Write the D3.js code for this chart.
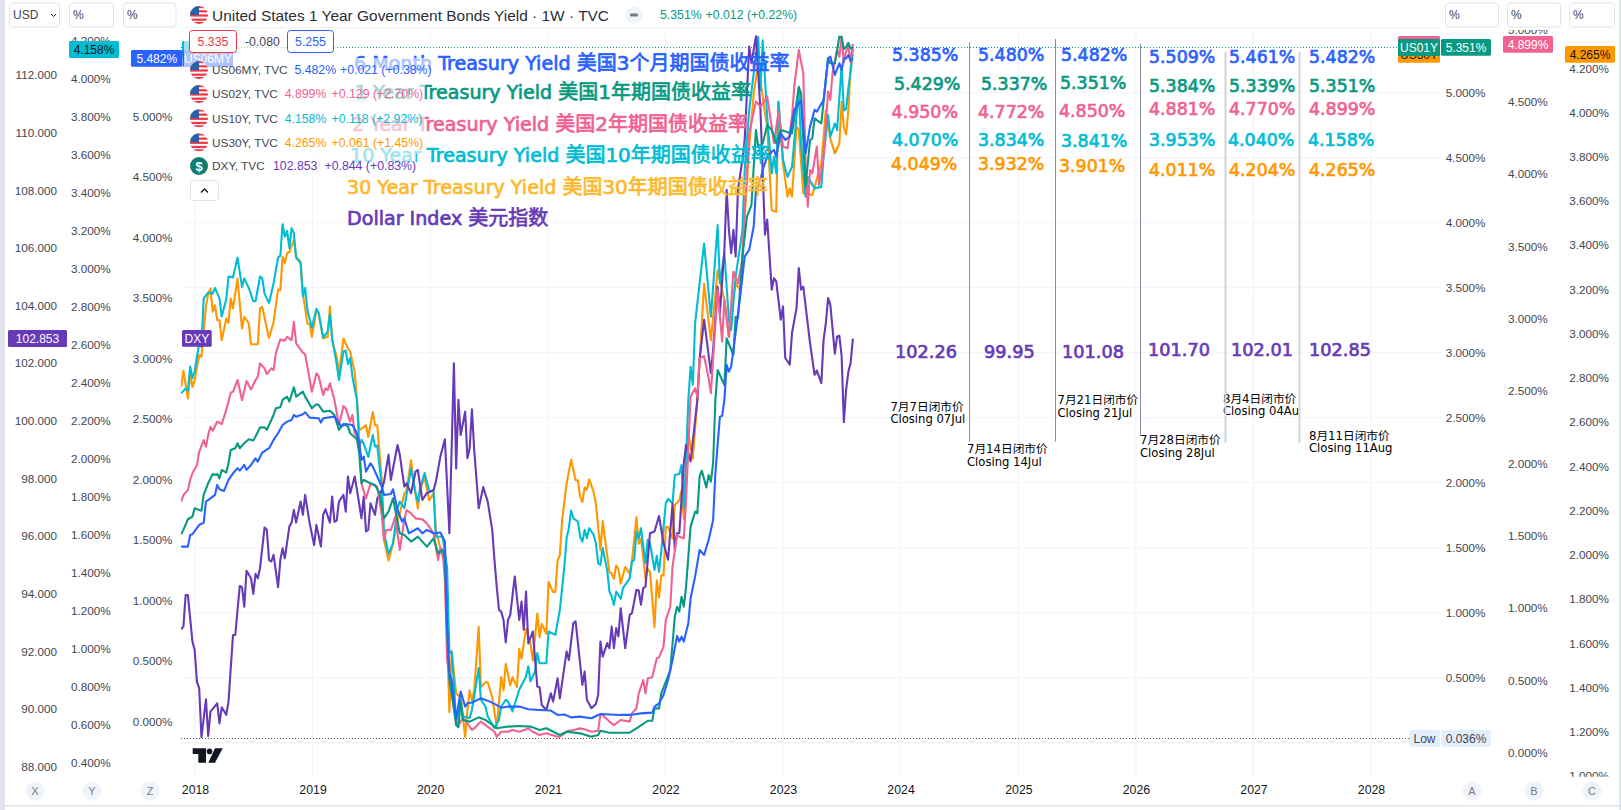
<!DOCTYPE html>
<html><head><meta charset="utf-8">
<script src="https://cdn.jsdelivr.net/npm/d3@7/dist/d3.min.js"></script>
<style>
html,body{margin:0;padding:0;background:#fff;overflow:hidden}
svg{display:block}
text{font-family:"Liberation Sans",Arial,sans-serif}
</style></head><body><svg id="c" width="1621" height="810"></svg>
<script>
// ---- readings: [week number since the first bar, value] ----
const us06my=[[0,1.447],[3,1.447],[4,1.543],[5,1.549],[8,1.626],[10,1.645],[11,1.819],[13,1.846],[15,1.874],[16,1.957],[17,1.921],[19,1.907],[21,1.998],[23,2.053],[25,2.094],[26,2.075],[28,2.122],[29,2.081],[31,2.122],[33,2.177],[34,2.15],[36,2.224],[39,2.26],[41,2.329],[43,2.384],[45,2.452],[47,2.48],[49,2.494],[50,2.535],[51,2.521],[54,2.541],[55,2.557],[57,2.513],[61,2.508],[62,2.472],[63,2.508],[68,2.521],[69,2.494],[71,2.439],[73,2.461],[76,2.452],[78,2.384],[79,2.301],[80,2.163],[81,2.191],[82,2.067],[84,2.136],[85,2.108],[87,2.026],[89,1.943],[90,1.874],[93,1.882],[94,1.921],[96,1.75],[98,1.654],[99,1.681],[101,1.557],[105,1.599],[107,1.557],[109,1.585],[112,1.557],[115,1.563],[117,1.49],[118,.786],[119,.4],[120,.345],[122,.028],[124,.249],[126,.125],[127,.152],[129,.158],[133,.194],[137,.166],[139,.147],[142,.116],[145,.125],[150,.125],[154,.103],[159,.097],[164,.092],[167,.056],[170,.06],[173,.036],[177,.042],[182,.028],[186,.064],[195,.056],[199,.056],[204,.069],[209,.075],[210,.125],[212,.152],[214,.221],[216,.345],[218,.51],[220,.709],[221,.662],[222,.703],[223,.662],[225,.813],[226,1.02],[228,1.199],[230,1.419],[232,1.378],[234,1.502],[236,1.667],[237,2.053],[239,2.521],[240,2.527],[241,2.659],[242,2.949],[243,2.893],[244,2.935],[245,3.072],[248,3.513],[250,3.844],[252,3.899],[254,4.092],[255,4.395],[257,4.477],[258,4.56],[260,4.67],[262,4.711],[263,4.725],[264,4.67],[266,4.863],[268,4.808],[270,4.835],[272,5.056],[275,5.138],[277,4.698],[279,4.918],[281,5.056],[282,5.042],[285,5.138],[287,5.483],[288,5.497],[290,5.345],[292,5.441],[293,5.385],[294,5.48],[295,5.482],[296,5.509],[297,5.461],[298,5.482]];
const us01y=[[0,1.603],[1,1.637],[3,1.719],[5,1.739],[6,1.803],[8,1.79],[9,1.785],[10,1.906],[12,1.996],[14,2.067],[15,2.06],[16,2.067],[17,2.034],[18,2.098],[20,2.078],[21,2.149],[22,2.252],[24,2.265],[25,2.303],[26,2.265],[28,2.303],[30,2.334],[32,2.324],[33,2.355],[35,2.424],[37,2.426],[38,2.406],[39,2.444],[41,2.521],[42,2.572],[44,2.58],[45,2.637],[47,2.662],[48,2.624],[50,2.734],[51,2.662],[54,2.701],[55,2.662],[58,2.572],[60,2.603],[61,2.598],[63,2.547],[66,2.554],[68,2.521],[70,2.406],[72,2.452],[74,2.431],[75,2.38],[78,2.334],[79,2.226],[80,1.996],[81,2.021],[84,1.996],[86,1.983],[88,1.919],[90,1.726],[92,1.778],[94,1.88],[97,1.611],[99,1.598],[102,1.547],[105,1.585],[109,1.508],[112,1.572],[114,1.457],[116,1.483],[117,1.418],[118,.867],[119,.483],[120,.38],[122,.136],[123,.118],[124,.316],[125,.175],[128,.162],[132,.195],[135,.175],[140,.111],[145,.124],[150,.129],[155,.124],[159,.098],[162,.111],[168,.059],[171,.085],[177,.072],[182,.046],[185,.059],[186,.092],[190,.077],[195,.077],[199,.077],[202,.11],[205,.144],[207,.169],[209,.169],[210,.264],[212,.264],[213,.38],[217,.559],[219,.969],[220,1.046],[221,1.008],[222,1.123],[223,1.046],[224,1.2],[226,1.662],[228,1.777],[229,1.764],[230,2.046],[231,2.092],[233,1.964],[234,2.059],[235,2.008],[236,2.149],[237,2.636],[238,2.867],[241,2.751],[242,3.11],[245,2.982],[246,3.277],[247,3.264],[249,3.738],[251,4.046],[253,4.136],[255,4.713],[256,4.585],[258,4.61],[260,4.751],[262,4.713],[264,4.61],[266,4.713],[271,4.687],[274,5.046],[275,4.995],[277,4.277],[279,4.636],[280,4.649],[281,4.803],[284,4.764],[287,5.264],[288,5.226],[290,5.226],[292,5.431],[293,5.429],[294,5.337],[295,5.351],[296,5.384],[297,5.339],[298,5.351]];
const us02y=[[0,1.735],[1,1.781],[3,1.815],[4,1.885],[5,1.931],[7,1.988],[8,2.08],[10,2.161],[11,2.115],[12,2.196],[13,2.253],[14,2.226],[16,2.288],[18,2.272],[20,2.368],[22,2.488],[23,2.495],[25,2.576],[27,2.437],[29,2.569],[31,2.511],[33,2.576],[34,2.599],[35,2.691],[37,2.656],[38,2.617],[40,2.656],[41,2.645],[42,2.76],[44,2.857],[46,2.848],[47,2.875],[49,2.852],[50,2.979],[51,2.829],[54,2.765],[55,2.755],[58,2.495],[60,2.622],[61,2.603],[63,2.472],[64,2.518],[65,2.507],[66,2.553],[68,2.438],[70,2.265],[72,2.396],[73,2.38],[75,2.288],[76,2.334],[77,2.207],[79,2.161],[80,1.861],[82,1.758],[84,1.861],[87,1.838],[89,1.643],[90,1.47],[91,1.539],[93,1.539],[95,1.631],[97,1.401],[99,1.608],[100,1.677],[102,1.654],[104,1.62],[107,1.613],[109,1.585],[112,1.516],[114,1.332],[115,1.413],[116,1.401],[117,1.194],[118,.641],[120,.41],[122,.215],[123,.191],[125,.238],[127,.203],[129,.157],[130,.168],[133,.215],[135,.191],[137,.168],[139,.145],[140,.11],[142,.145],[145,.145],[147,.157],[150,.145],[154,.168],[156,.145],[159,.122],[162,.134],[167,.11],[168,.111],[172,.152],[174,.157],[177,.168],[179,.162],[182,.145],[185,.152],[186,.261],[187,.261],[190,.215],[192,.191],[195,.226],[199,.215],[200,.272],[202,.307],[203,.41],[205,.502],[206,.41],[207,.514],[209,.521],[211,.652],[212,.659],[214,.733],[215,.917],[217,1.009],[218,1.286],[220,1.505],[221,1.493],[223,1.482],[224,1.747],[226,2.461],[228,2.519],[229,2.461],[230,2.726],[232,2.742],[234,2.588],[235,2.485],[238,3.199],[240,2.842],[241,3.13],[243,2.876],[245,3.325],[247,3.245],[249,3.406],[250,3.752],[252,4.282],[255,4.501],[257,4.466],[260,4.535],[262,4.328],[263,4.213],[265,4.431],[267,4.19],[269,4.178],[271,4.397],[272,4.604],[274,4.858],[276,4.696],[277,4.074],[278,3.775],[279,4.028],[280,4.005],[282,4.19],[283,3.925],[285,4.12],[287,4.57],[288,4.512],[289,4.7],[291,4.858],[292,4.81],[293,4.95],[294,4.772],[295,4.85],[296,4.881],[297,4.77],[298,4.899]];
const us10y=[[0,2.345],[2,2.37],[3,2.36],[4,2.486],[5,2.425],[6,2.46],[8,2.61],[9,2.59],[10,2.845],[12,2.875],[14,2.87],[15,2.9],[17,2.845],[18,2.75],[20,2.84],[21,2.96],[23,2.955],[25,3.06],[27,2.905],[28,2.95],[30,2.9],[32,2.83],[33,2.83],[35,2.96],[36,2.95],[37,2.87],[39,2.82],[41,2.925],[43,3.06],[44,3.07],[45,3.235],[46,3.17],[47,3.2],[48,3.11],[49,3.215],[50,3.19],[51,3.06],[53,3.03],[54,2.855],[55,2.9],[56,2.785],[58,2.69],[60,2.79],[61,2.77],[63,2.64],[65,2.67],[66,2.76],[67,2.63],[69,2.5],[70,2.415],[72,2.565],[73,2.57],[74,2.5],[75,2.53],[76,2.43],[78,2.31],[79,2.065],[80,2.1],[81,2.08],[83,2.01],[85,2.125],[86,2.065],[87,2.07],[89,1.855],[90,1.61],[92,1.5],[94,1.556],[96,1.74],[97,1.775],[99,1.74],[100,1.81],[102,1.95],[104,1.82],[105,1.775],[106,1.845],[108,1.925],[110,1.83],[112,1.83],[113,1.59],[116,1.59],[118,1.424],[119,.977],[120,.985],[121,.819],[122,.608],[124,.731],[125,.643],[128,.635],[129,.68],[130,.749],[132,.898],[133,.731],[135,.696],[136,.643],[139,.582],[141,.626],[142,.696],[144,.731],[145,.722],[147,.67],[150,.784],[153,.854],[154,.907],[155,.828],[157,.88],[158,.977],[159,.924],[162,.924],[163,1.091],[166,1.073],[168,1.205],[170,1.433],[171,1.582],[172,1.635],[173,1.728],[174,1.687],[176,1.67],[177,1.59],[178,1.564],[179,1.626],[180,1.582],[181,1.635],[183,1.6],[184,1.556],[185,1.45],[186,1.442],[187,1.53],[189,1.415],[190,1.301],[191,1.275],[192,1.231],[193,1.301],[195,1.263],[196,1.319],[199,1.371],[200,1.459],[201,1.468],[202,1.617],[203,1.582],[204,1.635],[206,1.45],[207,1.573],[208,1.556],[210,1.415],[211,1.489],[212,1.406],[213,1.512],[215,1.766],[216,1.789],[218,1.766],[219,1.915],[221,1.92],[222,1.968],[223,1.74],[224,1.994],[225,2.31],[226,2.485],[227,2.39],[228,2.713],[230,2.924],[232,3.134],[235,2.748],[238,3.231],[239,2.924],[241,3.082],[243,2.731],[244,2.678],[246,2.959],[249,3.204],[250,3.52],[252,3.836],[254,4.029],[256,4.222],[257,3.941],[258,4.204],[260,3.801],[262,3.503],[263,3.59],[264,3.503],[265,3.88],[267,3.573],[269,3.485],[271,3.538],[274,3.941],[275,3.66],[277,3.38],[278,3.485],[281,3.424],[284,3.432],[285,3.59],[287,3.81],[288,3.696],[290,3.766],[291,3.73],[293,4.07],[294,3.834],[295,3.841],[296,3.953],[297,4.04],[298,4.158]];
const us30y=[[0,2.759],[1,2.832],[3,2.707],[4,2.82],[5,2.759],[6,2.79],[8,2.903],[9,2.895],[11,3.121],[12,3.182],[13,3.204],[14,3.099],[15,3.129],[16,3.061],[17,3.061],[18,2.971],[20,3.069],[21,3.049],[22,3.159],[23,3.114],[25,3.249],[27,3.023],[28,3.076],[30,3.046],[31,2.952],[34,2.952],[35,3.114],[36,3.121],[38,3.023],[39,2.981],[41,3.053],[43,3.2],[44,3.197],[45,3.348],[46,3.32],[47,3.363],[48,3.37],[50,3.423],[51,3.348],[53,3.325],[54,3.182],[56,3.046],[57,3.043],[58,2.986],[60,3.106],[61,3.091],[63,2.978],[65,2.986],[66,3.124],[67,2.971],[69,2.895],[70,2.82],[72,2.978],[74,2.933],[75,2.918],[77,2.827],[78,2.699],[79,2.563],[82,2.586],[83,2.533],[85,2.646],[86,2.586],[87,2.586],[89,2.337],[90,2.066],[92,1.975],[94,2.05],[96,2.156],[97,2.186],[99,2.277],[100,2.292],[102,2.428],[103,2.337],[105,2.209],[106,2.292],[108,2.352],[110,2.247],[112,2.277],[113,2.111],[116,1.99],[117,1.96],[119,1.289],[120,1.565],[122,1.372],[124,1.357],[126,1.176],[127,1.296],[128,1.387],[129,1.342],[130,1.387],[132,1.673],[133,1.402],[135,1.424],[136,1.424],[138,1.357],[140,1.221],[142,1.447],[143,1.387],[144,1.507],[146,1.409],[147,1.447],[149,1.402],[150,1.575],[151,1.53],[153,1.666],[155,1.598],[156,1.522],[158,1.734],[159,1.628],[160,1.688],[162,1.643],[163,1.877],[165,1.832],[166,1.832],[167,1.975],[168,1.998],[169,2.156],[171,2.322],[173,2.43],[175,2.337],[176,2.337],[177,2.262],[178,2.239],[179,2.304],[180,2.295],[181,2.342],[183,2.284],[184,2.231],[186,2.02],[187,2.153],[190,1.922],[191,1.915],[192,1.892],[193,1.952],[194,1.937],[195,1.869],[197,1.945],[199,1.915],[200,1.975],[202,2.171],[203,2.05],[204,2.073],[206,1.892],[207,1.937],[208,1.922],[210,1.673],[211,1.885],[212,1.809],[213,1.907],[214,1.907],[215,2.126],[216,2.126],[218,2.073],[219,2.224],[221,2.247],[222,2.292],[223,2.163],[225,2.548],[227,2.435],[229,2.699],[232,3.227],[235,2.97],[238,3.287],[241,3.151],[243,2.985],[244,3.106],[246,3.227],[248,3.197],[250,3.528],[252,3.845],[254,4.086],[256,4.222],[257,4.147],[259,3.996],[260,3.936],[262,3.558],[264,3.551],[265,4.049],[267,3.77],[269,3.619],[270,3.657],[271,3.619],[273,3.936],[274,3.92],[276,3.634],[278,3.634],[280,3.626],[282,3.7],[284,3.77],[286,4.011],[288,3.883],[290,3.815],[292,3.86],[293,4.049],[294,3.932],[295,3.901],[296,4.011],[297,4.204],[298,4.265]];
const dxy=[[0,92.77],[1,92.86],[2,93.96],[3,93.96],[5,92.34],[6,92.05],[7,90.95],[8,90.72],[9,89.02],[11,90.34],[12,89.07],[13,89.91],[16,90.2],[17,89.5],[18,90.06],[20,89.8],[21,90.26],[23,92.57],[24,92.57],[26,94.27],[27,94.23],[28,93.55],[29,94.8],[31,94.54],[32,94.0],[33,94.69],[34,94.54],[35,94.89],[37,96.3],[38,96.22],[39,95.17],[40,95.12],[41,95.35],[43,94.23],[44,95.17],[45,95.58],[46,95.23],[48,96.33],[49,96.47],[50,96.91],[51,96.47],[53,97.2],[54,96.74],[55,97.43],[57,96.45],[59,95.69],[60,96.39],[62,95.64],[63,96.74],[64,96.93],[66,96.47],[67,97.37],[68,96.5],[69,96.54],[70,97.2],[72,97.43],[73,96.85],[74,98.07],[75,97.49],[77,98.07],[78,97.6],[80,96.62],[81,97.37],[82,96.16],[83,96.22],[84,97.14],[86,96.74],[87,97.31],[89,97.6],[90,97.89],[92,98.82],[93,97.95],[96,99.16],[97,98.82],[99,97.72],[100,97.83],[102,97.49],[104,98.24],[105,98.3],[107,97.26],[109,97.49],[112,97.6],[113,97.89],[115,98.76],[117,99.36],[119,96.1],[121,102.0],[122,98.35],[123,100.73],[124,99.51],[126,100.32],[127,98.7],[128,99.05],[129,100.4],[130,99.0],[132,96.97],[134,97.7],[136,97.2],[138,96.22],[139,95.17],[140,94.25],[141,93.44],[142,93.38],[143,93.09],[144,92.31],[145,93.09],[146,93.27],[148,94.6],[150,93.09],[151,93.73],[152,92.75],[153,94.08],[154,92.28],[156,92.69],[158,90.78],[159,90.76],[160,90.14],[162,89.97],[164,90.55],[165,90.26],[167,91.07],[168,90.37],[171,92.0],[172,91.7],[174,92.98],[175,93.04],[178,90.84],[179,91.3],[180,90.32],[182,90.03],[184,90.18],[185,90.49],[186,92.34],[187,91.82],[189,92.29],[190,92.11],[191,92.86],[192,92.11],[193,92.81],[194,92.52],[195,93.5],[197,92.11],[199,93.27],[200,93.33],[202,94.14],[203,94.11],[204,93.62],[205,94.2],[206,94.25],[208,96.1],[210,96.16],[212,96.7],[214,95.76],[216,95.18],[218,97.14],[219,95.53],[220,96.1],[221,96.1],[223,98.53],[224,99.17],[226,98.59],[229,100.73],[230,102.12],[232,103.51],[235,101.66],[236,102.47],[238,104.66],[239,103.74],[241,105.94],[242,108.02],[243,106.63],[244,105.82],[245,106.63],[246,105.7],[247,108.02],[249,109.06],[250,109.75],[252,112.99],[253,112.41],[255,113.34],[257,110.79],[259,106.46],[260,106.98],[262,104.55],[263,104.95],[264,104.84],[266,103.51],[267,103.97],[268,102.18],[270,101.95],[271,103.05],[273,103.91],[274,105.3],[275,104.55],[276,104.66],[279,102.7],[281,101.6],[282,101.75],[284,101.31],[285,102.81],[286,103.39],[287,104.26],[288,104.03],[290,102.33],[291,102.93],[292,102.95],[293,102.26],[294,99.95],[295,101.08],[296,101.70],[297,102.01],[298,102.85]];

// ---- axis tick lists ----
const dxyTicks=d3.range(88,113,2);
const yTicks=d3.range(0.4,4.3,0.2);
const zTicks=d3.range(0,5.1,0.5);
const aTicks=d3.range(0.5,5.1,0.5);
const bTicks=d3.range(0,5.1,0.5);
const cTicks=d3.range(1,4.3,0.2);
const gridTicks=d3.range(0,5.6,0.5);
const yearTicks=d3.range(2018,2029);

// ---- weekly closes typed on the picture ----
const closeCn=["7月7日闭市价","7月14日闭市价","7月21日闭市价","7月28日闭市价","8月4日闭市价","8月11日闭市价"];
const closeEn=["Closing 07Jul","Closing 14Jul","Closing 21Jul","Closing 28Jul","Closing 04Aug","Closing 11Aug"];
const rowBlue=["5.385%","5.480%","5.482%","5.509%","5.461%","5.482%"];
const rowGreen=["5.429%","5.337%","5.351%","5.384%","5.339%","5.351%"];
const rowPink=["4.950%","4.772%","4.850%","4.881%","4.770%","4.899%"];
const rowCyan=["4.070%","3.834%","3.841%","3.953%","4.040%","4.158%"];
const rowOrange=["4.049%","3.932%","3.901%","4.011%","4.204%","4.265%"];
const rowDxy=["102.26","99.95","101.08","101.70","102.01","102.85"];

// ---- colours ----
const BLUE="#2962FF",GREEN="#089981",PINK="#F06292",CYAN="#00BCD4",ORANGE="#FF9800",PURPLE="#673AB7";
const GRID="#F0F3FA",TXT="#434651",BORDER="#E0E3EB";

const svg=d3.select("#c");
const firstWeek=new Date(2017,10,19);
const weekDate=w=>d3.timeDay.offset(firstWeek,w*7);
const x=d3.scaleTime().domain([new Date(2018,0,1),new Date(2028,0,1)]).range([195,1371]);
const L=181,R=1441,T=28,B=776.7;

// price scales
const sDxy=d3.scaleLinear().domain([88,112]).range([766.7,75]);
const sY=d3.scaleLinear().domain([0.4,4]).range([762.7,79]);
const sZ=d3.scaleLinear().domain([0,5]).range([721.7,116.7]);
const sA=d3.scaleLinear().domain([0.5,5]).range([677.7,92.7]);
const sB=d3.scaleLinear().domain([0,4.5]).range([752.7,101.7]);
const sC=d3.scaleLinear().domain([1,4.2]).range([776,68.3]);

const defs=svg.append("defs");
defs.append("clipPath").attr("id","panelClip").append("rect").attr("x",0).attr("y",30).attr("width",1621).attr("height",746.7);
defs.append("clipPath").attr("id","plotClip").append("rect").attr("x",L).attr("y",T).attr("width",R-L).attr("height",B-T);
defs.append("clipPath").attr("id","augClip").append("rect").attr("x",1100).attr("y",380).attr("width",199).attr("height",80);

// frame
svg.append("rect").attr("x",0).attr("y",0).attr("width",5).attr("height",810).attr("fill",BORDER);
svg.append("rect").attr("x",1619).attr("y",0).attr("width",2).attr("height",810).attr("fill",BORDER);
svg.append("rect").attr("x",0).attr("y",805).attr("width",1621).attr("height",1.5).attr("fill",BORDER);

// grid
svg.append("g").selectAll("line").data(gridTicks).join("line")
 .attr("x1",L).attr("x2",R).attr("y1",d=>sA(d)).attr("y2",d=>sA(d)).attr("stroke",GRID).attr("stroke-width",1);
svg.append("g").selectAll("line").data(yearTicks).join("line")
 .attr("x1",d=>x(new Date(d,0,1))).attr("x2",d=>x(new Date(d,0,1))).attr("y1",T).attr("y2",B).attr("stroke",GRID).attr("stroke-width",1);

// reference dotted lines
svg.append("line").attr("x1",L).attr("x2",1409).attr("y1",Math.round(sA(0.036))+.5).attr("y2",Math.round(sA(0.036))+.5).attr("stroke","#555").attr("stroke-width",1).attr("stroke-dasharray","1 2");
svg.append("line").attr("x1",L).attr("x2",1398).attr("y1",Math.round(sA(5.351))+.5).attr("y2",Math.round(sA(5.351))+.5).attr("stroke",GREEN).attr("stroke-width",1).attr("stroke-dasharray","1 2");

// series
const series=[[us30y,sC,ORANGE],[us10y,sY,CYAN],[dxy,sDxy,PURPLE],[us02y,sB,PINK],[us01y,sA,GREEN],[us06my,sZ,BLUE]];
const gLines=svg.append("g").attr("clip-path","url(#plotClip)");
series.forEach(([rows,scale,col])=>{
  const line=d3.line().x(d=>x(weekDate(d[0]))).y(d=>scale(d[1]));
  gLines.append("path").datum(rows).attr("d",line).attr("fill","none").attr("stroke",col).attr("stroke-width",2.1).attr("stroke-linejoin","round");
});

// big headings
const headings=[
 ["6 Month Treasury Yield ","美国3个月期国债收益率",354,63,BLUE],
 ["1 Year Treasury Yield ","美国1年期国债收益率",355,92.5,GREEN],
 ["2 Year Treasury Yield ","美国2年期国债收益率",352,124,PINK],
 ["10 Year Treasury Yield ","美国10年期国债收益率",350,155.5,CYAN],
 ["30 Year Treasury Yield ","美国30年期国债收益率",347,187,"#FDB92B"],
 ["Dollar Index ","美元指数",347,218,PURPLE]];
const bold=s=>s.style("font-family",'"DejaVu Sans","Noto Sans CJK SC",sans-serif').attr("stroke-width",0.7).attr("paint-order","stroke");
headings.forEach(h=>{
  const t=svg.append("text").attr("x",h[2]).attr("y",h[3]).attr("dy","0.36em").attr("fill",h[4]).attr("stroke",h[4]).attr("font-size",19.1);
  bold(t);
  t.append("tspan").text(h[0]);
  t.append("tspan").text(h[1]).attr("font-size",20);
});

// value columns
const colX=[
 [892,894,891.6,892,891],[978,981,978,978,978],[1061,1060,1059,1061,1059],[1149,1149,1149,1149,1149],[1229,1229,1229,1228,1229],[1309,1309,1309,1308,1309]];
const rowY=[[55,83.3,112,140,164],[55,83.3,112,140,164],[55,82.7,111,140.5,165.7],[57,85.7,109,140,169.3],[57,85.7,109,140,169.3],[57,85.7,109,140,169.3]];
[[rowBlue,BLUE],[rowGreen,GREEN],[rowPink,PINK],[rowCyan,CYAN],[rowOrange,ORANGE]].forEach(([row,col],r)=>{
  row.forEach((s,c)=>{
    bold(svg.append("text").attr("x",colX[c][r]).attr("y",rowY[c][r]).attr("dy","0.36em").attr("fill",col).attr("stroke",col).attr("font-size",17.4).text(s));
  });
});
const dxyX=[895,984,1062,1148,1231,1309],dxyY=[351.7,351.7,351.7,349.3,349.3,349.3];
rowDxy.forEach((s,i)=>bold(svg.append("text").attr("x",dxyX[i]).attr("y",dxyY[i]).attr("dy","0.36em").attr("fill",PURPLE).attr("stroke",PURPLE).attr("font-size",17.7).text(s)));

// closing labels
const cX=[890.4,967,1057.5,1140,1223,1309],cY1=[406.7,449,400,440,399,435.7],cY2=[419,462,413,453,411,448];
closeCn.forEach((s,i)=>{
  svg.append("text").attr("x",cX[i]).attr("y",cY1[i]).attr("dy","0.36em").attr("font-size",11.7).attr("fill","#000").style("font-family",'"DejaVu Sans","Noto Sans CJK SC",sans-serif').text(s);
  const en=svg.append("text").attr("x",cX[i]).attr("y",cY2[i]).attr("dy","0.36em").attr("font-size",11.6).attr("fill","#000").style("font-family",'"DejaVu Sans",sans-serif').text(closeEn[i]);
  if(i===4) en.attr("clip-path","url(#augClip)");
});

// separators
[[969.6,42,441.7],[1055.5,39,441.7],[1140.5,44,436]].forEach(l=>svg.append("line").attr("x1",l[0]).attr("x2",l[0]).attr("y1",l[1]).attr("y2",l[2]).attr("stroke","#8A8E99").attr("stroke-width",1));
[[1225.5,52,442.7],[1299.5,52,442.7]].forEach(l=>svg.append("line").attr("x1",l[0]).attr("x2",l[0]).attr("y1",l[1]).attr("y2",l[2]).attr("stroke","#D1D4DC").attr("stroke-width",2));

// series tags behind the legend
function tag(x0,x1,y0,y1,fill,label,col,fs){
  svg.append("rect").attr("x",x0).attr("y",y0).attr("width",x1-x0).attr("height",y1-y0).attr("fill",fill).attr("rx",1.5);
  if(label) svg.append("text").attr("x",(x0+x1)/2).attr("y",(y0+y1)/2).attr("dy","0.36em").attr("text-anchor","middle").attr("font-size",fs||12).attr("fill",col).text(label);
}
tag(182,232,41,58,CYAN,"US10Y","#131722");
tag(183,233,50,67,BLUE,"US06MY","#fff");

// legend veil rows
[[184,336,29,58],[184,433,58,82],[184,425,82,106],[184,425,106,130],[184,425,130,154],[184,416,154,178]].forEach(r=>
  svg.append("rect").attr("x",r[0]).attr("y",r[2]).attr("width",r[1]-r[0]).attr("height",r[3]-r[2]).attr("fill","#fff").attr("fill-opacity",0.62));

// flags
function flag(cx,cy){
  const id="f"+cx+"_"+Math.round(cy);
  defs.append("clipPath").attr("id",id).append("circle").attr("cx",cx).attr("cy",cy).attr("r",9);
  const g=svg.append("g").attr("clip-path",`url(#${id})`);
  g.append("rect").attr("x",cx-9).attr("y",cy-9).attr("width",18).attr("height",18).attr("fill","#fff");
  [-9,-4.8,-.6,3.6,7].forEach(o=>g.append("rect").attr("x",cx-9).attr("y",cy+o).attr("width",18).attr("height",2.2).attr("fill","#F23645"));
  g.append("rect").attr("x",cx-9).attr("y",cy-9).attr("width",9).attr("height",9).attr("fill","#2962A8");
}
const legendRows=[["US06MY, TVC","5.482%","+0.021 (+0.38%)",70,294.4,340,BLUE],["US02Y, TVC","4.899%","+0.129 (+2.70%)",94,284.7,331.6,PINK],["US10Y, TVC","4.158%","+0.118 (+2.92%)",118.3,284.7,331.6,CYAN],["US30Y, TVC","4.265%","+0.061 (+1.45%)",142.3,284.7,331.6,ORANGE],["DXY, TVC","102.853","+0.844 (+0.83%)",166,273,324.5,PURPLE]];
flag(199,15);
legendRows.slice(0,4).forEach(r=>flag(199,r[3]));
svg.append("circle").attr("cx",199).attr("cy",166).attr("r",9).attr("fill","#0D7E6B");
svg.append("text").attr("x",199).attr("y",166).attr("dy","0.36em").attr("text-anchor","middle").attr("font-size",13).attr("font-weight","bold").attr("fill","#fff").text("$");
const lt=(tx,ty,s,col,fs)=>svg.append("text").attr("x",tx).attr("y",ty).attr("dy","0.36em").attr("font-size",fs||12.3).attr("fill",col).text(s);
legendRows.forEach(r=>{lt(212,r[3],r[0],TXT,11.8);lt(r[4],r[3],r[1],r[6]);lt(r[5],r[3],r[2],r[6]);});

// title row
lt(212,15,"United States 1 Year Government Bonds Yield · 1W · TVC","#2A2E39",15.45);
svg.append("circle").attr("cx",634).attr("cy",15).attr("r",8.5).attr("fill",GRID);
svg.append("rect").attr("x",630).attr("y",13.5).attr("width",8).attr("height",3).attr("rx",1).attr("fill","#787B86");
lt(660,15,"5.351%",GREEN);lt(705.6,15,"+0.012 (+0.22%)",GREEN);

// OHLC chips
function chip(x0,x1,y0,y1,stroke,s,col){
  svg.append("rect").attr("x",x0+.5).attr("y",y0+.5).attr("width",x1-x0-1).attr("height",y1-y0-1).attr("rx",3).attr("fill","#fff").attr("stroke",stroke);
  if(s) svg.append("text").attr("x",(x0+x1)/2).attr("y",(y0+y1)/2).attr("dy","0.36em").attr("text-anchor","middle").attr("font-size",12.3).attr("fill",col).text(s);
}
chip(189,237,30,53,"#F23645","5.335","#F23645");
lt(245,42,"-0.080",TXT);
chip(287,334,30,53,BLUE,"5.255",BLUE);
chip(190,219,180,201,BORDER);
svg.append("path").attr("d",d3.line()([[201,192.5],[204.5,189],[208,192.5]])).attr("fill","none").attr("stroke","#131722").attr("stroke-width",1.4);

// TV logo
svg.append("path").attr("fill","#131722").attr("d",d3.line()([[192.7,748.3],[206,748.3],[206,762.7],[198.3,762.7],[198.3,754],[192.7,754]])+"Z");
svg.append("circle").attr("cx",209.5).attr("cy",751.4).attr("r",2.8).attr("fill","#131722");
svg.append("path").attr("fill","#131722").attr("d",d3.line()([[215,748.3],[222.7,748.3],[215,762.7],[208.3,762.7]])+"Z");

// price axes (through d3.axis)
const panels=svg.append("g").attr("clip-path","url(#panelClip)");
function axisAt(scale,ticks,xp,fmt){
  const g=panels.append("g").attr("transform",`translate(${xp},0)`)
   .call(d3.axisLeft(scale).tickValues(ticks).tickSize(0).tickPadding(0).tickFormat(fmt));
  g.select(".domain").remove();
  g.selectAll("text").attr("font-size",11.7).attr("fill",TXT).style("font-family",'"Liberation Sans",Arial,sans-serif');
}
const pct=d=>d3.format(".3f")(d)+"%";
axisAt(sDxy,dxyTicks,57,d3.format(".3f"));
axisAt(sY,yTicks,110.7,pct);
axisAt(sZ,zTicks,172.4,pct);
axisAt(sA,aTicks,1485.3,pct);
axisAt(sB,bTicks,1547.7,pct);
axisAt(sC,cTicks,1609,pct);

// time axis
const gx=svg.append("g").attr("transform",`translate(0,790)`)
 .call(d3.axisBottom(x).tickValues(yearTicks.map(y=>new Date(y,0,1))).tickSize(0).tickPadding(0).tickFormat(d3.timeFormat("%Y")));
gx.select(".domain").remove();
gx.selectAll("text").attr("dy","0.36em").attr("y",0).attr("font-size",12.3).attr("fill","#131722").style("font-family",'"Liberation Sans",Arial,sans-serif');

// right and left price tags
tag(1398,1440,36,53,PINK);
tag(1398,1440,46,62.7,ORANGE,"US30Y","#131722");
tag(1398,1440,39,56,GREEN,"US01Y","#fff");
tag(1441,1491,39,55.7,GREEN,"5.351%","#fff");
tag(1503,1553,36,52.7,PINK,"4.899%","#fff");
tag(1565,1615,46,62.7,ORANGE,"4.265%","#131722");
tag(1409,1440,730,746.7,"#E3EFFD","Low",TXT);
tag(1441,1491,730,746.7,"#E3EFFD","0.036%",TXT);
tag(69,119,41,58,CYAN,"4.158%","#131722");
tag(131,182.6,50,66.7,BLUE,"5.482%","#fff");
tag(8,67,330,347,PURPLE,"102.853","#fff");
tag(182,211.7,330,346.7,PURPLE,"DXY","#fff");

// unit boxes
[[9,60,"USD"],[69,114,"%"],[123,176.5,"%"],[1445,1499,"%"],[1507,1561,"%"],[1569,1615,"%"]].forEach(b=>{
  svg.append("rect").attr("x",b[0]+.5).attr("y",3).attr("width",b[1]-b[0]-1).attr("height",24).attr("rx",3).attr("fill","#fff").attr("stroke",BORDER);
  lt(b[0]+4,15,b[2],TXT,12);
});
svg.append("path").attr("d",d3.line()([[51,14],[53.5,16.5],[56,14]])).attr("fill","none").attr("stroke","#131722").attr("stroke-width",1);

// scale buttons
[[35,"X"],[92,"Y"],[150,"Z"],[1472,"A"],[1534,"B"],[1592,"C"]].forEach(b=>{
  svg.append("circle").attr("cx",b[0]).attr("cy",791).attr("r",9.5).attr("fill",GRID);
  svg.append("text").attr("x",b[0]).attr("y",791).attr("dy","0.36em").attr("text-anchor","middle").attr("font-size",11).attr("fill","#787B86").text(b[1]);
});
</script></body></html>
